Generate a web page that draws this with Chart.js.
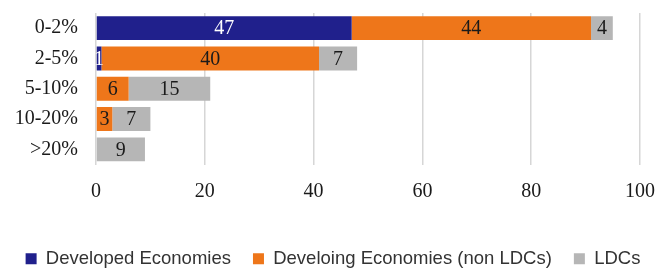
<!DOCTYPE html>
<html lang="en">
<head>
    <meta charset="UTF-8">
    <title>Economies by share</title>
    <script src="https://cdn.jsdelivr.net/npm/chart.js"></script>
    <style>
        html, body { margin: 0; padding: 0; background: #fff; }
        #wrap { width: 670px; height: 274px; }
    </style>
</head>
<body>
    <div id="wrap"><canvas id="chart"></canvas></div>

    <script>
        // data
        var categories = ['0-2%', '2-5%', '5-10%', '10-20%', '>20%'];
        var developed = [47, 1, 0, 0, 0];
        var developing = [44, 40, 6, 3, 0];
        var ldcs = [4, 7, 15, 7, 9];
        var xTicks = [0, 20, 40, 60, 80, 100];

        var serif = '"Liberation Serif", "DejaVu Serif", serif';

        // labels inside each bar segment
        var barLabels = {
            id: 'barLabels',
            afterDatasetsDraw: function (chart) {
                var ctx = chart.ctx;
                ctx.save();
                ctx.font = '20px ' + serif;
                ctx.textAlign = 'center';
                ctx.textBaseline = 'middle';
                chart.data.datasets.forEach(function (ds, i) {
                    var meta = chart.getDatasetMeta(i);
                    meta.data.forEach(function (bar, j) {
                        var v = ds.data[j];
                        if (!v) return;
                        ctx.fillStyle = ds.labelColor;
                        ctx.fillText(String(v), (bar.x + bar.base) / 2, bar.y + 1);
                    });
                });
                ctx.restore();
            }
        };

        var ctx = document.getElementById('chart').getContext('2d');
        var chart = new Chart(ctx, {
            type: 'bar',
            data: {
                labels: categories,
                datasets: [
                    { label: 'Developed Economies', data: developed, backgroundColor: '#20208c', labelColor: '#ffffff' },
                    { label: 'Develoing Economies (non LDCs)', data: developing, backgroundColor: '#ee761a', labelColor: '#1a1a1a' },
                    { label: 'LDCs', data: ldcs, backgroundColor: '#b6b6b6', labelColor: '#1a1a1a' }
                ]
            },
            options: {
                indexAxis: 'y',
                responsive: true,
                maintainAspectRatio: false,
                animation: false,
                datasets: {
                    bar: { categoryPercentage: 1, barPercentage: 0.79 }
                },
                layout: { padding: { top: 13, right: 4, left: 0, bottom: -4 } },
                scales: {
                    x: {
                        stacked: true,
                        min: 0,
                        max: 100,
                        afterBuildTicks: function (axis) {
                            axis.ticks = xTicks.map(function (v) { return { value: v }; });
                        },
                        afterFit: function (axis) { axis.height = 63; },
                        grid: { color: '#d6d6d6', lineWidth: 1.5, drawTicks: false },
                        border: { display: false },
                        ticks: { padding: 15, color: '#1a1a1a', font: { family: serif, size: 20 } }
                    },
                    y: {
                        stacked: true,
                        afterFit: function (axis) {
                            axis.width = 96;
                            axis.paddingTop = 0;
                            axis.paddingBottom = 0;
                        },
                        grid: { display: false, drawTicks: false },
                        border: { display: false },
                        ticks: { autoSkip: false, padding: 18, color: '#1a1a1a', font: { family: serif, size: 20 } }
                    }
                },
                plugins: {
                    tooltip: { enabled: false },
                    legend: {
                        position: 'bottom',
                        labels: {
                            boxWidth: 11,
                            boxHeight: 11,
                            padding: 22,
                            color: '#333',
                            font: { family: '"Liberation Sans", Arial, sans-serif', size: 18.5 }
                        }
                    }
                }
            },
            plugins: [barLabels]
        });
    </script>
</body>
</html>
